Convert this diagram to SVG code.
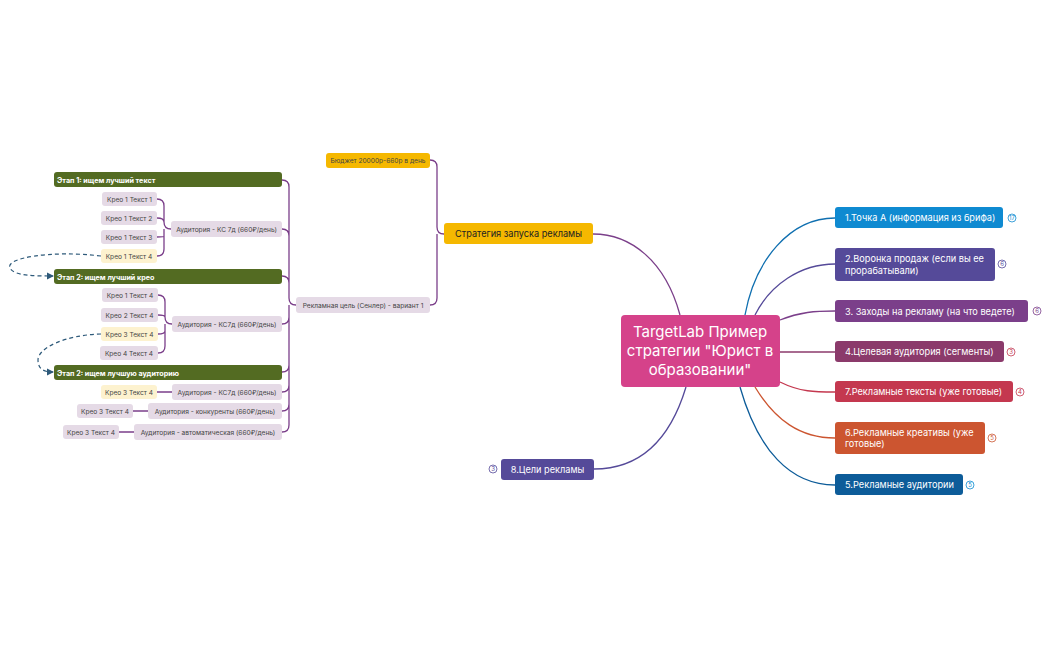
<svg xmlns="http://www.w3.org/2000/svg" width="1050" height="650" viewBox="0 0 1050 650">
<style>
text{font-family:Inter,"Noto Sans","DejaVu Sans",sans-serif}
.w{fill:#fff}
.s{font-size:6.6px;fill:#444;text-anchor:middle}
.g{font-size:7.2px;fill:#fff;font-weight:bold}
.r{font-size:9.2px;fill:#fff}
.l{fill:#e5dae6}
.y{fill:#fdf2cf}
.gr{fill:#536b22}
.c{fill:none;stroke-width:1.3}
.p{stroke:#7b3f8a}
.b{fill:#fff;stroke-width:0.8}
.bt{font-size:6px;text-anchor:middle}
</style>
<defs><marker id="ar" markerWidth="6" markerHeight="6" refX="5" refY="3" orient="auto"><path d="M0,0 L6,3 L0,6z" fill="#2e5a7a"/></marker></defs>
<g id="connectors">
<path class="c" stroke="#0f6fb0" d="M745 315 C755 260,790 218,835 218"/>
<path class="c" stroke="#554a99" d="M755 315 C770 285,800 264,835 264"/>
<path class="c" stroke="#7b3f8a" d="M780 320 C800 312,815 311,835 311"/>
<path class="c" stroke="#8b3a6b" d="M780 352 L835 352"/>
<path class="c" stroke="#c4384f" d="M780 382 C800 392,815 392,835 392"/>
<path class="c" stroke="#cc5530" d="M755 387 C775 420,800 438,835 438"/>
<path class="c" stroke="#0d5c99" d="M740 387 C758 450,790 485,835 485"/>
<path class="c p" d="M680 315 C665 260,630 234,593 234"/>
<path class="c" stroke="#554a99" d="M686 387 C670 440,640 469,594 469"/>
<path class="c p" d="M444 234 Q437 234 437 227 L437 167 Q437 160 430 160 M437 234 L437 298 Q437 305 430 305"/>
<path class="c p" d="M296 305 Q289 305 289 298 L289 187 Q289 180 282 180 M289 236 Q289 229 282 229 M289 283 Q289 276 282 276 M289 317 Q289 324 282 324 M289 365 Q289 372 282 372 M289 385 Q289 392 282 392 M289 404 Q289 411 282 411 M289 305 L289 425 Q289 432 282 432"/>
<path class="c p" d="M171 229 Q164 229 164 222 L164 206 Q164 199 157 199 M164 222 Q164 218 157 218 M164 236 Q164 237 157 237 M164 229 L164 249 Q164 256 157 256"/>
<path class="c p" d="M172 324 Q165 324 165 317 L165 302 Q165 295 158 295 M165 317 Q165 315 158 315 M165 331 Q165 334 158 334 M165 324 L165 346 Q165 353 158 353"/>
<path class="c p" d="M157 392 L172 392 M133 411 L148 411 M119 432 L134 432"/>
<path fill="none" stroke="#2e5a7a" stroke-width="1.2" stroke-dasharray="4,3" marker-end="url(#ar)" d="M101 256 C50 250,5 258,10 268 C14 276,35 276,53 276"/>
<path fill="none" stroke="#2e5a7a" stroke-width="1.2" stroke-dasharray="4,3" marker-end="url(#ar)" d="M101 334 C65 335,38 348,38 360 C38 370,45 372,53 372"/>
</g>
<g id="center"><rect x="621" y="315" width="159" height="72" rx="4" fill="#d5428a"/>
<text x="700" y="337" class="w" font-size="15" text-anchor="middle">TargetLab Пример</text>
<text x="700" y="356" class="w" font-size="15" text-anchor="middle">стратегии "Юрист в</text>
<text x="700" y="375" class="w" font-size="15" text-anchor="middle">образовании"</text></g>
<g id="n1"><rect x="835" y="207" width="168" height="21" rx="3" fill="#0f8ad1"/><text x="845" y="221" class="r">1.Точка А (информация из брифа)</text><circle cx="1012" cy="218" r="4" class="b" stroke="#0f8ad1"/><text x="1012" y="220" class="bt" fill="#0f8ad1">17</text></g>
<g id="n2"><rect x="835" y="248" width="160" height="33" rx="3" fill="#554a99"/><text x="845" y="262" class="r">2.Воронка продаж (если вы ее</text><text x="845" y="274" class="r">прорабатывали)</text><circle cx="1002" cy="264" r="4" class="b" stroke="#554a99"/><text x="1002" y="266" class="bt" fill="#554a99">6</text></g>
<g id="n3"><rect x="835" y="300" width="193" height="22" rx="3" fill="#7b3f8a"/><text x="845" y="315" class="r">3. Заходы на рекламу (на что ведете)</text><circle cx="1037" cy="311" r="4" class="b" stroke="#7b3f8a"/><text x="1037" y="313" class="bt" fill="#7b3f8a">6</text></g>
<g id="n4"><rect x="835" y="341" width="169" height="21" rx="3" fill="#8b3a6b"/><text x="845" y="355" class="r">4.Целевая аудитория (сегменты)</text><circle cx="1011" cy="352" r="4" class="b" stroke="#c4384f"/><text x="1011" y="354" class="bt" fill="#c4384f">3</text></g>
<g id="n7"><rect x="835" y="381" width="178" height="21" rx="3" fill="#c4384f"/><text x="845" y="395" class="r">7.Рекламные тексты (уже готовые)</text><circle cx="1020" cy="392" r="4" class="b" stroke="#c4384f"/><text x="1020" y="394" class="bt" fill="#c4384f">4</text></g>
<g id="n6"><rect x="835" y="422" width="150" height="32" rx="3" fill="#cc5530"/><text x="845" y="436" class="r">6.Рекламные креативы (уже</text><text x="845" y="447" class="r">готовые)</text><circle cx="992" cy="438" r="4" class="b" stroke="#cc5530"/><text x="992" y="440" class="bt" fill="#cc5530">5</text></g>
<g id="n5"><rect x="835" y="474" width="128" height="21" rx="3" fill="#0d5c99"/><text x="845" y="488" class="r">5.Рекламные аудитории</text><circle cx="970" cy="485" r="4" class="b" stroke="#0f8ad1"/><text x="970" y="487" class="bt" fill="#0f8ad1">5</text></g>
<g id="strat"><rect x="444" y="223" width="149" height="21" rx="3" fill="#f5b800"/><text x="518.5" y="237" font-size="9.2" fill="#222" text-anchor="middle">Стратегия запуска рекламы</text></g>
<g id="n8"><rect x="501" y="459" width="93" height="21" rx="3" fill="#554a99"/><text x="547.5" y="473" class="r" text-anchor="middle">8.Цели рекламы</text><circle cx="493" cy="469" r="4" class="b" stroke="#554a99"/><text x="493" y="471" class="bt" fill="#554a99">3</text></g>
<g id="budget"><rect x="326" y="153" width="104" height="15" rx="3" fill="#f5b800"/><text x="378" y="163" class="s" fill="#333">Бюджет 20000р-660р в день</text></g>
<g id="goal"><rect x="296" y="297" width="134" height="16" rx="3" class="l"/><text x="363" y="308" class="s">Рекламная цель (Сенлер) - вариант 1</text></g>
<g id="e1"><rect x="54" y="172" width="228" height="15" rx="3" class="gr"/><text x="57" y="183" class="g">Этап 1: ищем лучший текст</text></g>
<g id="e2"><rect x="54" y="269" width="228" height="15" rx="3" class="gr"/><text x="57" y="280" class="g">Этап 2: ищем лучший крео</text></g>
<g id="e3"><rect x="54" y="365" width="228" height="15" rx="3" class="gr"/><text x="57" y="376" class="g">Этап 2: ищем лучшую аудиторию</text></g>
<g id="a1"><rect x="171" y="221" width="111" height="16" rx="3" class="l"/><text x="226.5" y="232" class="s">Аудитория - КС 7д (660₽/день)</text></g>
<g id="k11"><rect x="102" y="192" width="55" height="14" rx="3" class="l"/><text x="129.5" y="202" class="s">Крео 1 Текст 1</text></g>
<g id="k12"><rect x="101" y="211" width="56" height="14" rx="3" class="l"/><text x="129" y="221" class="s">Крео 1 Текст 2</text></g>
<g id="k13"><rect x="101" y="230" width="56" height="14" rx="3" class="l"/><text x="129" y="240" class="s">Крео 1 Текст 3</text></g>
<g id="k14"><rect x="101" y="249" width="56" height="14" rx="3" class="y"/><text x="129" y="259" class="s">Крео 1 Текст 4</text></g>
<g id="a2"><rect x="172" y="316" width="110" height="16" rx="3" class="l"/><text x="227" y="327" class="s">Аудитория - КС7д (660₽/день)</text></g>
<g id="k21"><rect x="102" y="288" width="56" height="14" rx="3" class="l"/><text x="130" y="298" class="s">Крео 1 Текст 4</text></g>
<g id="k22"><rect x="101" y="308" width="57" height="14" rx="3" class="l"/><text x="129.5" y="318" class="s">Крео 2 Текст 4</text></g>
<g id="k23"><rect x="101" y="327" width="57" height="14" rx="3" class="y"/><text x="129.5" y="337" class="s">Крео 3 Текст 4</text></g>
<g id="k24"><rect x="100" y="346" width="58" height="14" rx="3" class="l"/><text x="129" y="356" class="s">Крео 4 Текст 4</text></g>
<g id="a3"><rect x="172" y="384" width="110" height="16" rx="3" class="l"/><text x="227" y="395" class="s">Аудитория - КС7д (660₽/день)</text></g>
<g id="k31"><rect x="101" y="385" width="56" height="14" rx="3" class="y"/><text x="129" y="395" class="s">Крео 3 Текст 4</text></g>
<g id="a4"><rect x="148" y="403" width="134" height="16" rx="3" class="l"/><text x="215" y="414" class="s">Аудитория - конкуренты (660₽/день)</text></g>
<g id="k32"><rect x="77" y="404" width="56" height="14" rx="3" class="l"/><text x="105" y="414" class="s">Крео 3 Текст 4</text></g>
<g id="a5"><rect x="134" y="424" width="148" height="16" rx="3" class="l"/><text x="208" y="435" class="s">Аудитория - автоматическая (660₽/день)</text></g>
<g id="k33"><rect x="63" y="425" width="56" height="14" rx="3" class="l"/><text x="91" y="435" class="s">Крео 3 Текст 4</text></g>
</svg>
